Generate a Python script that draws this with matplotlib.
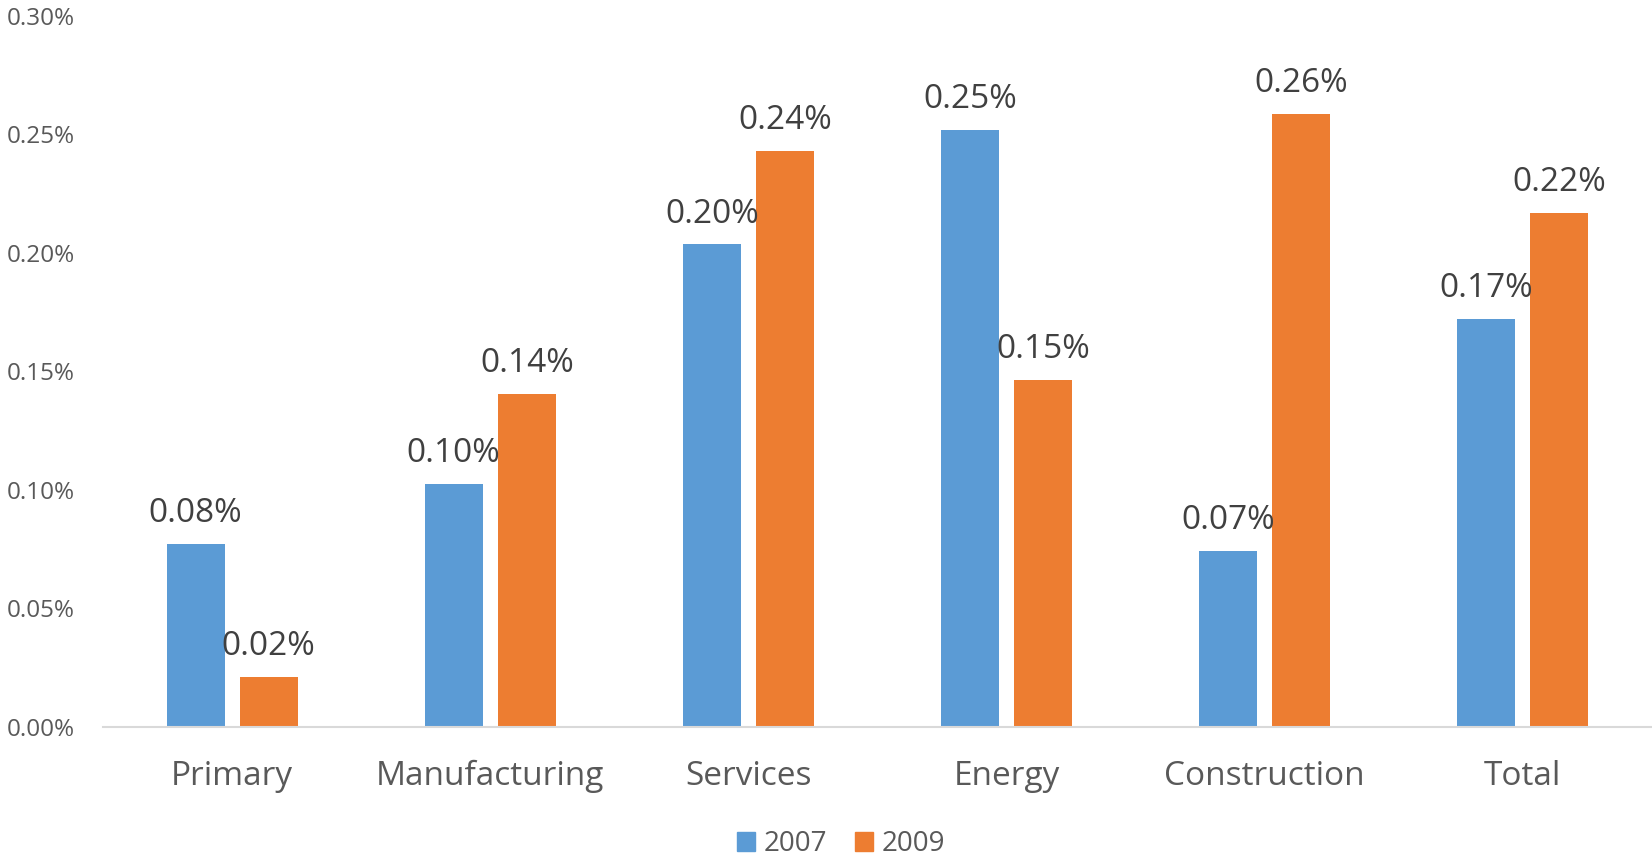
import matplotlib.pyplot as plt
import numpy as np
from matplotlib.patches import Patch

categories = ['Primary', 'Manufacturing', 'Services', 'Energy', 'Construction', 'Total']
values_2007 = [0.077, 0.1026, 0.2035, 0.2519, 0.0741, 0.1719]
values_2009 = [0.0211, 0.1404, 0.2430, 0.1462, 0.2586, 0.2166]
labels_2007 = ['0.08%', '0.10%', '0.20%', '0.25%', '0.07%', '0.17%']
labels_2009 = ['0.02%', '0.14%', '0.24%', '0.15%', '0.26%', '0.22%']
series = ['2007', '2009']
yticks = [0.0, 0.05, 0.10, 0.15, 0.20, 0.25, 0.30]

blue = '#5B9BD5'
orange = '#ED7D31'
plt.rcParams['font.family'] = ['Open Sans', 'DejaVu Sans']

fig = plt.figure(figsize=(16.52, 8.58), dpi=100)
ax = fig.add_axes([103 / 1652, 131.3 / 858, 1 - 103 / 1652, 711 / 858])

x = np.arange(len(categories))
off = 0.1415
w = 0.225
b1 = ax.bar(x - off, values_2007, w, color=blue)
b2 = ax.bar(x + off, values_2009, w, color=orange)

for bars, labs in [(b1, labels_2007), (b2, labels_2009)]:
    for bar, lab in zip(bars, labs):
        ax.annotate(lab, (bar.get_x() + bar.get_width() / 2, bar.get_height()),
                    xytext=(0, 10), textcoords='offset points',
                    ha='center', va='bottom', fontsize=24, color='#404040')

ax.set_xlim(-0.5, len(categories) - 0.5)
ax.set_ylim(0, 0.30)
ax.set_yticks(yticks)
ax.set_yticklabels(['%.2f%%' % v for v in yticks], fontsize=17.5, color='#595959')
ax.set_xticks(x)
ax.set_xticklabels(categories, fontsize=24, color='#595959')
ax.tick_params(axis='y', length=0, pad=20)
ax.tick_params(axis='x', length=0, pad=24)
for s in ['top', 'right', 'left']:
    ax.spines[s].set_visible(False)
ax.spines['bottom'].set_color('#D9D9D9')
ax.spines['bottom'].set_linewidth(1.5)

handles = [Patch(color=blue, label=series[0]), Patch(color=orange, label=series[1])]
fig.legend(handles=handles, loc='center', bbox_to_anchor=(841 / 1652, 1 - 844 / 858),
           ncol=2, frameon=False, fontsize=20, labelcolor='#595959',
           handlelength=0.65, handleheight=0.65, handletextpad=0.3, columnspacing=1.0)

fig.savefig('out.png', dpi=100)
